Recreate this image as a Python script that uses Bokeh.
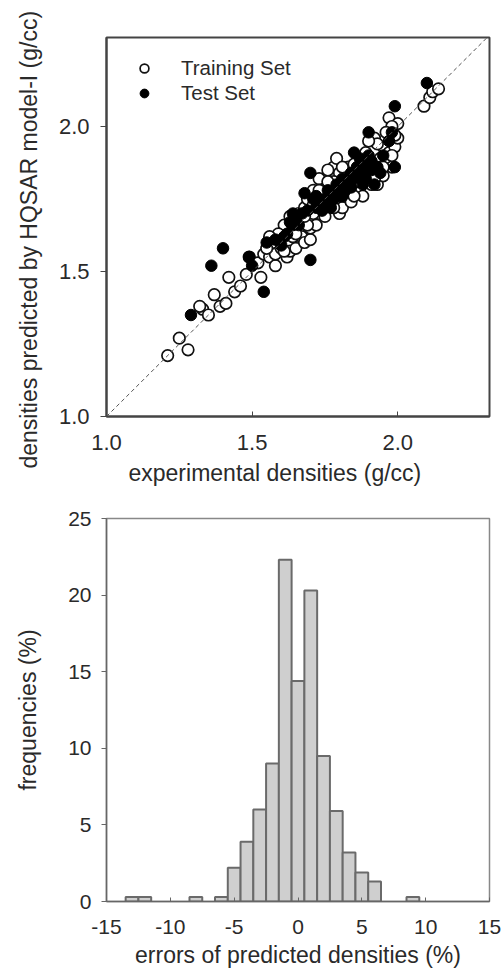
import numpy as np
from bokeh.plotting import figure
from bokeh.layouts import column
from bokeh.models import Range1d, Legend, LegendItem, FixedTicker, Slope, NumeralTickFormatter, Title
from bokeh.embed import file_html
from bokeh.resources import INLINE

# ---------------- data ----------------
train_x = [1.21, 1.25, 1.28, 1.33, 1.32, 1.35, 1.37, 1.39, 1.41, 1.42, 1.44, 1.46, 1.48, 1.49, 1.53,
           1.52, 1.54, 1.56, 1.58, 1.58, 1.60, 1.62, 1.62, 1.63, 1.64, 1.65, 1.66, 1.67, 1.68, 1.70,
           1.70, 1.70, 1.61, 1.63, 1.66, 1.68, 1.69, 1.71, 1.72, 1.73, 1.74, 1.75, 1.76, 1.77, 1.78,
           1.79, 1.80, 1.80, 1.81, 1.82, 1.83, 1.84, 1.85, 1.86, 1.86, 1.87, 1.88, 1.89, 1.90, 1.91,
           1.92, 1.93, 1.94, 1.95, 1.96, 1.97, 1.97, 1.98, 1.99, 2.00, 2.00, 1.99, 2.09, 2.11, 2.12,
           2.14, 1.73, 1.76, 1.79, 1.81, 1.84, 1.88, 1.75, 1.72, 1.77, 1.83, 1.89, 1.92, 1.95, 1.80,
           1.78, 1.82, 1.86, 1.90, 1.94, 1.67, 1.64, 1.60, 1.57, 1.55, 1.74, 1.71, 1.69, 1.87, 1.85,
           1.93, 1.98, 1.96, 1.59, 1.65, 1.68, 1.71, 1.73, 1.76, 1.78, 1.81, 1.83, 1.85, 1.87, 1.90,
           1.92, 1.95, 1.98, 1.61, 1.56]
train_y = [1.21, 1.27, 1.23, 1.37, 1.38, 1.35, 1.42, 1.38, 1.39, 1.48, 1.43, 1.45, 1.49, 1.55, 1.48,
           1.53, 1.56, 1.55, 1.52, 1.56, 1.58, 1.55, 1.60, 1.57, 1.62, 1.58, 1.65, 1.62, 1.60, 1.61,
           1.65, 1.68, 1.66, 1.69, 1.70, 1.72, 1.75, 1.78, 1.73, 1.70, 1.76, 1.82, 1.73, 1.79, 1.86,
           1.74, 1.70, 1.80, 1.77, 1.83, 1.75, 1.80, 1.78, 1.88, 1.84, 1.79, 1.82, 1.91, 1.86, 1.80,
           1.84, 1.80, 1.89, 1.93, 1.87, 1.91, 2.03, 1.86, 1.93, 2.01, 1.96, 1.97, 2.07, 2.10, 2.12,
           2.13, 1.82, 1.85, 1.89, 1.72, 1.74, 1.76, 1.69, 1.66, 1.76, 1.86, 1.86, 1.96, 1.83, 1.84,
           1.81, 1.79, 1.81, 1.83, 1.86, 1.67, 1.65, 1.62, 1.60, 1.58, 1.72, 1.70, 1.66, 1.85, 1.87,
           1.94, 2.00, 1.98, 1.63, 1.63, 1.69, 1.73, 1.78, 1.81, 1.72, 1.86, 1.78, 1.76, 1.83, 1.95,
           1.82, 1.86, 1.90, 1.57, 1.62]

test_x = [1.29, 1.36, 1.40, 1.50, 1.54, 1.70, 1.70, 1.68, 2.10, 1.99, 1.90, 1.99, 1.49, 1.55, 1.58,
          1.60, 1.62, 1.63, 1.65, 1.66, 1.67, 1.72, 1.73, 1.74, 1.75, 1.76, 1.77, 1.78, 1.79, 1.80,
          1.80, 1.81, 1.82, 1.83, 1.84, 1.85, 1.86, 1.87, 1.88, 1.88, 1.89, 1.90, 1.91, 1.92, 1.93,
          1.95, 1.97, 1.98, 1.77, 1.71, 1.64, 1.61, 1.64, 1.69, 1.72, 1.75, 1.78, 1.79, 1.82, 1.84,
          1.86, 1.89, 1.91, 1.94, 1.85, 1.81]
test_y = [1.35, 1.52, 1.58, 1.52, 1.43, 1.54, 1.84, 1.77, 2.15, 2.07, 1.98, 1.86, 1.55, 1.60, 1.61,
          1.59, 1.63, 1.67, 1.68, 1.66, 1.70, 1.72, 1.74, 1.71, 1.75, 1.78, 1.74, 1.77, 1.80, 1.76,
          1.79, 1.82, 1.78, 1.81, 1.84, 1.82, 1.86, 1.89, 1.80, 1.87, 1.84, 1.90, 1.88, 1.80, 1.86,
          1.90, 1.95, 1.98, 1.72, 1.75, 1.70, 1.62, 1.66, 1.71, 1.76, 1.72, 1.75, 1.78, 1.81, 1.79,
          1.83, 1.82, 1.85, 1.84, 1.91, 1.76]

density_ticks = [1.0, 1.5, 2.0]

err_bins = [-13, -12, -8, -6, -5, -4, -3, -2, -1, 0, 1, 2, 3, 4, 5, 6, 9]
err_freq = [0.3, 0.3, 0.3, 0.3, 2.2, 3.9, 6.0, 9.0, 22.3, 14.4, 20.3, 9.5, 5.9, 3.2, 1.9, 1.3, 0.3]
err_xticks = [-15, -10, -5, 0, 5, 10, 15]
freq_yticks = [0, 5, 10, 15, 20, 25]

FONT = "Liberation Sans"
TXT = "#2a2a2a"

# ---------------- top: scatter ----------------
p1 = figure(width=503, height=496, x_range=Range1d(1.0, 2.315), y_range=Range1d(1.0, 2.307),
            output_backend="svg", toolbar_location=None,
            min_border_left=106, min_border_right=13, min_border_top=37, min_border_bottom=80)
p1.grid.visible = False
p1.outline_line_color = "#444444"
p1.outline_line_width = 2
for ax in (p1.xaxis[0], p1.yaxis[0]):
    ax.axis_line_color = "#444444"
    ax.axis_line_width = 2
    ax.major_tick_line_color = "#444444"
    ax.minor_tick_line_color = None
    ax.major_label_text_font = FONT
    ax.major_label_text_font_size = "22px"
    ax.major_label_text_color = TXT
    ax.formatter = NumeralTickFormatter(format="0.0")
    ax.ticker = FixedTicker(ticks=density_ticks)
p1.xaxis.major_tick_in = 5
p1.xaxis.major_tick_out = 0
p1.xaxis.major_label_standoff = 18
p1.yaxis.major_tick_in = 0
p1.yaxis.major_tick_out = 6
p1.yaxis.major_label_standoff = 11

p1.add_layout(Slope(gradient=1, y_intercept=0, line_color="#555555", line_dash="4 3", line_width=1))

r_train = p1.scatter(train_x, train_y, marker="circle", size=11.5, fill_color="white",
                     line_color="#111111", line_width=1.7)
r_test = p1.scatter(test_x, test_y, marker="circle", size=11.5, fill_color="black",
                    line_color="black", line_width=1)

legend = Legend(items=[LegendItem(label="Training Set", renderers=[r_train]),
                       LegendItem(label="Test Set", renderers=[r_test])],
                location="top_left", margin=19, padding=10, spacing=1,
                glyph_width=38, glyph_height=22, label_standoff=18,
                label_text_font=FONT, label_text_font_size="20.5px", label_text_color=TXT,
                border_line_color=None, background_fill_alpha=0)
p1.add_layout(legend)

ytitle = Title(text="densities  predicted by HQSAR model-I (g/cc)", align="left", offset=-52,
               vertical_align="top", standoff=24,
               text_font=FONT, text_font_size="23px", text_font_style="normal", text_color=TXT)
p1.add_layout(ytitle, "left")
xtitle = Title(text="experimental densities (g/cc)", align="left", offset=22,
               vertical_align="bottom", standoff=11,
               text_font=FONT, text_font_size="23px", text_font_style="normal", text_color=TXT)
p1.add_layout(xtitle, "below")

# ---------------- bottom: histogram ----------------
p2 = figure(width=503, height=474, x_range=Range1d(-15, 15), y_range=Range1d(0, 25),
            output_backend="svg", toolbar_location=None,
            min_border_left=106, min_border_right=14, min_border_top=22, min_border_bottom=69)
p2.grid.visible = False
p2.outline_line_color = "#888888"
p2.outline_line_width = 1.5

bins = np.array(err_bins, dtype=float)
p2.quad(left=bins - 0.5, right=bins + 0.5, bottom=0, top=err_freq,
        fill_color="#cfcfcf", line_color="#6a6a6a", line_width=2)

for ax in (p2.xaxis[0], p2.yaxis[0]):
    ax.axis_line_color = "#666666"
    ax.axis_line_width = 1.5
    ax.major_tick_line_color = "#666666"
    ax.minor_tick_line_color = None
    ax.major_label_text_font = FONT
    ax.major_label_text_font_size = "21px"
    ax.major_label_text_color = TXT
    ax.axis_label_text_font = FONT
    ax.axis_label_text_font_size = "23px"
    ax.axis_label_text_font_style = "normal"
    ax.axis_label_text_color = TXT
p2.xaxis.ticker = FixedTicker(ticks=err_xticks)
p2.xaxis.major_label_overrides = {t: str(t) for t in err_xticks}
p2.yaxis.ticker = FixedTicker(ticks=freq_yticks)
p2.xaxis.major_tick_in = 4
p2.xaxis.major_tick_out = 0
p2.xaxis.major_label_standoff = 18
p2.xaxis.axis_label = "errors of predicted densities (%)"
p2.xaxis.axis_label_standoff = 5
p2.yaxis.major_tick_in = 0
p2.yaxis.major_tick_out = 5
p2.yaxis.major_label_standoff = 10
p2.yaxis.axis_label = "frequencies (%)"
p2.yaxis.axis_label_standoff = 24

layout = column(p1, p2, spacing=0)
open("out.html", "w").write(file_html(layout, INLINE))
